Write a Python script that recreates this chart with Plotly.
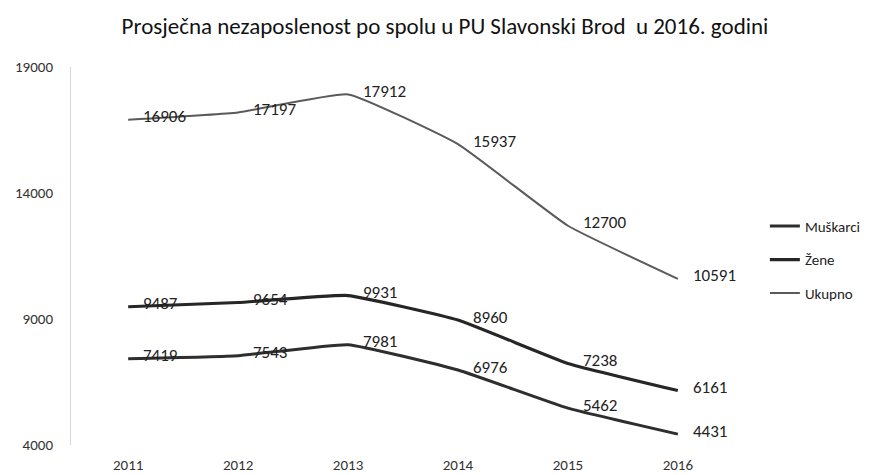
import plotly.graph_objects as go

years = [2011, 2012, 2013, 2014, 2015, 2016]
muskarci = [7419, 7543, 7981, 6976, 5462, 4431]
zene = [9487, 9654, 9931, 8960, 7238, 6161]
ukupno = [16906, 17197, 17912, 15937, 12700, 10591]
y_ticks = [4000, 9000, 14000, 19000]

FONT = "Carlito, Lato, sans-serif"

series = [
    ("Muškarci", muskarci, "#2e2e2e", 3),
    ("Žene", zene, "#262626", 3.2),
    ("Ukupno", ukupno, "#5a5a5a", 2),
]

fig = go.Figure()
annotations = []
for i, (name, vals, color, width) in enumerate(series):
    fig.add_trace(go.Scatter(
        x=years, y=vals, name=name, mode="lines",
        line=dict(color=color, width=width, shape="spline", smoothing=0.35),
        legendgroup=f"g{i}",
    ))
    for x, v in zip(years, vals):
        annotations.append(dict(
            x=x, y=v, xref="x", yref="y", text=str(v), showarrow=False,
            xanchor="left", yanchor="middle", xshift=13, yshift=3,
            font=dict(family=FONT, size=17, color="#222222"),
        ))

# page body has an 8px margin, so the figure is drawn 8px in from the corner
W, H = 864, 467
fig.update_layout(
    width=W, height=H,
    margin=dict(l=63, r=137, t=59, b=30, autoexpand=False),
    paper_bgcolor="white", plot_bgcolor="white",
    font=dict(family=FONT, color="#333333"),
    title=dict(
        text="Prosječna nezaposlenost po spolu u PU Slavonski Brod  u 2016. godini",
        x=437 / W, xanchor="center", xref="container",
        y=1 - 18 / H, yanchor="middle", yref="container",
        font=dict(family=FONT, size=23, color="#111111"),
    ),
    xaxis=dict(
        range=[2010.48, 2016.52], tickvals=years, ticktext=[str(y) for y in years],
        showgrid=False, zeroline=False, showline=False, ticks="",
        tickfont=dict(family=FONT, size=15, color="#333333"),
        ticklabelstandoff=9, automargin=False,
    ),
    yaxis=dict(
        range=[4000, 19000], tickvals=y_ticks, ticktext=[str(t) for t in y_ticks],
        showgrid=False, zeroline=False, showline=True, linecolor="#d8d8d8", linewidth=1,
        ticks="", tickfont=dict(family=FONT, size=15, color="#333333"),
        ticklabelstandoff=14, automargin=False,
    ),
    legend=dict(
        x=1.045, xanchor="left", y=0.49, yanchor="middle",
        font=dict(family=FONT, size=15, color="#222222"),
        tracegroupgap=11, bgcolor="rgba(0,0,0,0)",
    ),
    annotations=annotations,
    showlegend=True,
)

fig.write_html("out.html")
